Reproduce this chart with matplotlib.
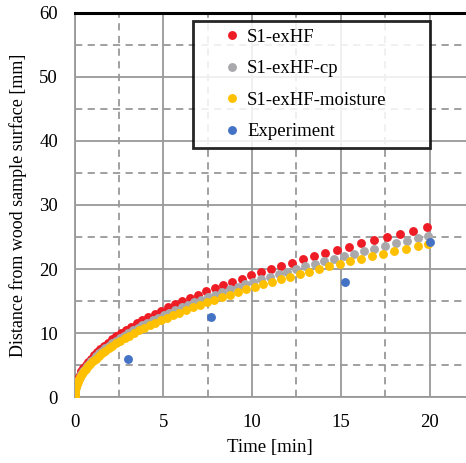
import matplotlib
matplotlib.use("Agg")
import matplotlib.pyplot as plt
from matplotlib.ticker import MultipleLocator

plt.rcParams['font.family'] = ['Liberation Serif', 'DejaVu Serif']
plt.rcParams['font.size'] = 13.5

# char front depth [mm] vs time [min]
red_time = [0, 0.005, 0.022, 0.051, 0.092, 0.146, 0.214, 0.295, 0.389, 0.497, 0.619,
            0.754, 0.904, 1.068, 1.246, 1.438, 1.645, 1.865, 2.101, 2.351, 2.616,
            2.895, 3.19, 3.498, 3.823, 4.161, 4.516, 4.883, 5.267, 5.666, 6.079,
            6.508, 6.955, 7.414, 7.887, 8.377, 8.881, 9.404, 9.942, 10.49, 11.06,
            11.64, 12.24, 12.86, 13.48, 14.13, 14.79, 15.47, 16.16, 16.87, 17.59,
            18.33, 19.09, 19.86]
red_depth = [0, 0.5, 1.0, 1.5, 2.0, 2.5, 3.0, 3.5, 4.0, 4.5, 5.0,
             5.5, 6.0, 6.5, 7.0, 7.5, 8.0, 8.5, 9.0, 9.5, 10.0,
             10.5, 11.0, 11.5, 12.0, 12.5, 13.0, 13.5, 14.0, 14.5, 15.0,
             15.5, 16.0, 16.5, 17.0, 17.5, 18.0, 18.5, 19.0, 19.5, 20.0,
             20.5, 21.0, 21.5, 22.0, 22.5, 23.0, 23.5, 24.0, 24.5, 25.0,
             25.5, 26.0, 26.5]

gray_time = [0, 0.004, 0.018, 0.040, 0.072, 0.114, 0.165, 0.226, 0.297, 0.378, 0.468,
             0.569, 0.679, 0.799, 0.930, 1.071, 1.221, 1.382, 1.553, 1.735, 1.926,
             2.127, 2.338, 2.560, 2.793, 3.035, 3.288, 3.551, 3.825, 4.108, 4.402,
             4.707, 5.023, 5.348, 5.683, 6.030, 6.387, 6.754, 7.131, 7.519, 7.918,
             8.326, 8.746, 9.180, 9.614, 10.07, 10.53, 11.00, 11.49, 11.98, 12.48,
             13.00, 13.53, 14.06, 14.60, 15.16, 15.73, 16.30, 16.89, 17.49, 18.11,
             18.73, 19.36, 19.90]
gray_depth = [0, 0.4, 0.8, 1.2, 1.6, 2.0, 2.4, 2.8, 3.2, 3.6, 4.0,
              4.4, 4.8, 5.2, 5.6, 6.0, 6.4, 6.8, 7.2, 7.6, 8.0,
              8.4, 8.8, 9.2, 9.6, 10.0, 10.4, 10.8, 11.2, 11.6, 12.0,
              12.4, 12.8, 13.2, 13.6, 14.0, 14.4, 14.8, 15.2, 15.6, 16.0,
              16.4, 16.8, 17.2, 17.6, 18.0, 18.4, 18.8, 19.2, 19.6, 20.0,
              20.4, 20.8, 21.2, 21.6, 22.0, 22.4, 22.8, 23.2, 23.6, 24.0,
              24.4, 24.8, 25.2]

yellow_time = [0, 0.005, 0.019, 0.044, 0.080, 0.126, 0.182, 0.250, 0.328, 0.417, 0.517,
               0.628, 0.750, 0.883, 1.027, 1.183, 1.349, 1.527, 1.715, 1.916, 2.127,
               2.349, 2.583, 2.828, 3.085, 3.353, 3.632, 3.923, 4.225, 4.538, 4.863,
               5.199, 5.548, 5.907, 6.278, 6.661, 7.055, 7.461, 7.877, 8.305, 8.746,
               9.197, 9.661, 10.14, 10.62, 11.12, 11.63, 12.15, 12.69, 13.23, 13.79,
               14.36, 14.94, 15.53, 16.13, 16.75, 17.37, 18.01, 18.66, 19.32, 19.90]
yellow_depth = [0, 0.4, 0.8, 1.2, 1.6, 2.0, 2.4, 2.8, 3.2, 3.6, 4.0,
                4.4, 4.8, 5.2, 5.6, 6.0, 6.4, 6.8, 7.2, 7.6, 8.0,
                8.4, 8.8, 9.2, 9.6, 10.0, 10.4, 10.8, 11.2, 11.6, 12.0,
                12.4, 12.8, 13.2, 13.6, 14.0, 14.4, 14.8, 15.2, 15.6, 16.0,
                16.4, 16.8, 17.2, 17.6, 18.0, 18.4, 18.8, 19.2, 19.6, 20.0,
                20.4, 20.8, 21.2, 21.6, 22.0, 22.4, 22.8, 23.2, 23.6, 23.9]

exp_time = [3.0, 7.67, 15.25, 20.0]
exp_depth = [6.0, 12.5, 18.0, 24.2]

fig = plt.figure(figsize=(4.66, 4.63), dpi=100)
ax = fig.add_axes([0.160, 0.1425, 0.840, 0.8295])

ms = 6.4
ax.plot(red_time, red_depth, 'o', ls='none', ms=ms, color='#EE1C25', mec='none', label='S1-exHF', zorder=3)
ax.plot(gray_time, gray_depth, 'o', ls='none', ms=ms, color='#A9A9AC', mec='none', label='S1-exHF-cp', zorder=3)
ax.plot(yellow_time, yellow_depth, 'o', ls='none', ms=ms, color='#FFC000', mec='none', label='S1-exHF-moisture', zorder=3)
ax.plot(exp_time, exp_depth, 'o', ls='none', ms=ms, color='#4472C4', mec='none', label='Experiment', zorder=4)

ax.set_xlim(0, 22.05)
ax.set_ylim(0, 60)
ax.xaxis.set_major_locator(MultipleLocator(5))
ax.xaxis.set_minor_locator(MultipleLocator(2.5))
ax.yaxis.set_major_locator(MultipleLocator(10))
ax.yaxis.set_minor_locator(MultipleLocator(5))

ax.grid(which='major', color='#999999', lw=1.3, ls='-', zorder=0)
ax.grid(which='minor', color='#999999', lw=1.3, ls=(0, (4, 3)), zorder=0)
ax.set_axisbelow(True)

ax.tick_params(which='both', length=0)
ax.tick_params(axis='x', pad=12)
ax.tick_params(axis='y', pad=12)

for side in ['left', 'bottom']:
    ax.spines[side].set_color('#999999')
    ax.spines[side].set_linewidth(1.3)
ax.spines['right'].set_visible(False)
ax.spines['top'].set_color('black')
ax.spines['top'].set_linewidth(2.2)

ax.set_xlabel('Time [min]', labelpad=6)
ax.set_ylabel('Distance from wood sample surface [mm]', fontsize=13, labelpad=9)

leg = ax.legend(loc='upper left', bbox_to_anchor=(0.3016, 0.979, 0.6064, 0.0), mode='expand',
                frameon=True, fancybox=False, edgecolor='black', framealpha=0.85,
                handlelength=3.4, handletextpad=-0.9, borderpad=0.4, labelspacing=0.77,
                borderaxespad=0, numpoints=1)
leg.get_frame().set_linewidth(2.0)

fig.savefig('out.png', dpi=100)
